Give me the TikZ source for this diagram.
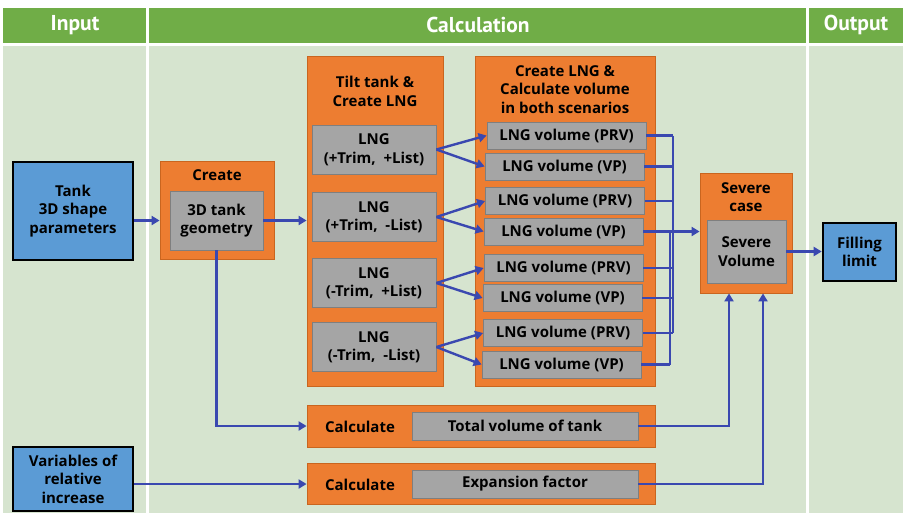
\documentclass[tikz,border=0pt]{standalone}
\usepackage{fontspec}
\setmainfont{Open Sans}
\newfontfamily\hdrfont{PT Sans}
\usetikzlibrary{arrows.meta,calc}
\definecolor{hdrgreen}{HTML}{70AD47}
\definecolor{bodygreen}{HTML}{D6E4CF}
\definecolor{orng}{HTML}{ED7D31}
\definecolor{orngdk}{HTML}{C9651F}
\definecolor{gry}{HTML}{A5A5A5}
\definecolor{grydk}{HTML}{7F7F7F}
\definecolor{blu}{HTML}{5B9BD5}
\definecolor{arrblue}{HTML}{3A48B0}
\newcommand{\boxfont}{\fontsize{15}{18.5}\selectfont\bfseries}
\newcommand{\headfont}{\hdrfont\fontsize{21.5}{23}\selectfont\bfseries}
\begin{document}
\begin{tikzpicture}[x=1pt,y=-1pt,
  hdr/.style={fill=hdrgreen,draw=none},
  bodyarea/.style={fill=bodygreen,draw=none},
  hdrtext/.style={text=white,font=\headfont},
  orangebox/.style={draw=orngdk,fill=orng,line width=0.8pt,inner sep=0pt},
  graybox/.style={draw=grydk,fill=gry,line width=0.8pt,inner sep=0pt,align=center,font=\boxfont},
  bluebox/.style={draw=black,line width=2.6pt,fill=blu,inner sep=0pt,align=center,font=\boxfont},
  lbl/.style={align=center,font=\boxfont,inner sep=0pt},
  ln/.style={draw=arrblue,line width=2.4pt},
  arr/.style={draw=arrblue,line width=2.4pt,-{Triangle[length=8pt,width=9pt]}}]
\useasboundingbox (0,0) rectangle (904,515);
\fill[white] (0,0) rectangle (904,515);
% header and body columns
\fill[hdr] (3,8) rectangle (146,43);
\fill[hdr] (149,8) rectangle (806,43);
\fill[hdr] (809,8) rectangle (903,43);
\fill[bodyarea] (3,46) rectangle (146,513);
\fill[bodyarea] (149,46) rectangle (806,513);
\fill[bodyarea] (809,46) rectangle (903,513);
\node[hdrtext] (hIn) at (75,25) {Input};
\node[hdrtext] (hCalc) at (478,25) {Calculation};
\node[hdrtext] (hOut) at (856,25) {Output};

% input boxes
\node[bluebox,minimum width=120pt,minimum height=98pt] (tank) at (73,211) {Tank\\3D shape\\parameters};
\node[bluebox,minimum width=120pt,minimum height=64pt] (var) at (73,479) {Variables of\\relative\\increase};

% create
\node[orangebox,minimum width=114pt,minimum height=98pt] (create) at (217,210) {};
\node[lbl] (createT) at (217,175) {Create};
\node[graybox,minimum width=93pt,minimum height=59pt] (geom) at (216.5,220.5) {3D tank\\geometry};

% tilt tank
\node[orangebox,minimum width=136pt,minimum height=330pt] (tilt) at (375,221) {};
\node[lbl] (tiltT) at (375,91.5) {Tilt tank \&\\Create LNG};
\node[graybox,minimum width=124pt,minimum height=49pt] (lng1) at (374,149.5) {LNG\\(+Trim,\ \ +List)};
\node[graybox,minimum width=124pt,minimum height=49pt] (lng2) at (374,217) {LNG\\(+Trim,\ \ -List)};
\node[graybox,minimum width=124pt,minimum height=49pt] (lng3) at (374,283) {LNG\\(-Trim,\ \ +List)};
\node[graybox,minimum width=124pt,minimum height=49pt] (lng4) at (374,347) {LNG\\(-Trim,\ \ -List)};

% create LNG & volume
\node[orangebox,minimum width=180pt,minimum height=330pt] (clng) at (565,221) {};
\node[lbl] (clngT) at (565,89.5) {Create LNG \&\\Calculate volume\\in both scenarios};
\node[graybox,minimum width=159pt,minimum height=27pt] (prv1) at (566.5,135.5) {LNG volume (PRV)};
\node[graybox,minimum width=159pt,minimum height=27pt] (vp1) at (564.5,166.5) {LNG volume (VP)};
\node[graybox,minimum width=159pt,minimum height=27pt] (prv2) at (565,201) {LNG volume (PRV)};
\node[graybox,minimum width=159pt,minimum height=27pt] (vp2) at (563.5,231.5) {LNG volume (VP)};
\node[graybox,minimum width=159pt,minimum height=27pt] (prv3) at (563.5,268) {LNG volume (PRV)};
\node[graybox,minimum width=159pt,minimum height=27pt] (vp3) at (562.5,298) {LNG volume (VP)};
\node[graybox,minimum width=159pt,minimum height=27pt] (prv4) at (563,333) {LNG volume (PRV)};
\node[graybox,minimum width=159pt,minimum height=27pt] (vp4) at (561.5,364.5) {LNG volume (VP)};

% severe
\node[orangebox,minimum width=92pt,minimum height=120pt] (severe) at (746,233) {};
\node[lbl] (severeT) at (746,197) {Severe\\case};
\node[graybox,minimum width=79pt,minimum height=63pt] (sevvol) at (746.5,251.5) {Severe\\Volume};

% output
\node[bluebox,minimum width=73pt,minimum height=58pt] (fill) at (859.5,252) {Filling\\limit};

% calculate rows
\node[orangebox,minimum width=348pt,minimum height=42pt] (calc1) at (481,426) {};
\node[lbl] (calc1T) at (360,427) {Calculate};
\node[graybox,minimum width=226pt,minimum height=28pt] (tot) at (525,426) {Total volume of tank};
\node[orangebox,minimum width=348pt,minimum height=41pt] (calc2) at (481,483.5) {};
\node[lbl] (calc2T) at (360,485) {Calculate};
\node[graybox,minimum width=226pt,minimum height=28pt] (expf) at (525,484) {Expansion factor};

% connectors
\coordinate (busA) at (673,0);
\coordinate (busB) at (670,0);
\coordinate (upA) at (729,0);
\coordinate (upB) at (763,0);

\draw[arr] (tank.east |- geom) -- (create.west |- geom);
\draw[arr] (geom.east) -- (geom.east -| tilt.west);
\draw[arr] (geom.south) |- (calc1.west);
\draw[arr] (var.east |- expf) -- (calc2.west |- expf);

\foreach \i in {1,2,3,4}{
  \draw[arr] (lng\i.east) -- (prv\i.west);
  \draw[arr] (lng\i.east) -- (vp\i.west);
}
\foreach \v in {prv1,vp1,prv2,vp2,prv3,vp3,prv4}{
  \draw[ln] (\v.east) -- (\v.east -| busA);
}
\draw[ln] (vp4.east) -- (vp4.east -| busB);
\draw[ln] (prv1.east -| busA) -- (prv4.east -| busA);
\draw[ln] (vp2.east -| busB) -- (vp4.east -| busB);
\draw[arr] (vp2.east -| busB) -- (vp2.east -| severe.west);

\draw[arr] (sevvol.east) -- (sevvol.east -| fill.west);
\draw[arr] (tot.east) -| (upA |- severe.south);
\draw[arr] (expf.east) -| (upB |- severe.south);
\end{tikzpicture}
\end{document}
